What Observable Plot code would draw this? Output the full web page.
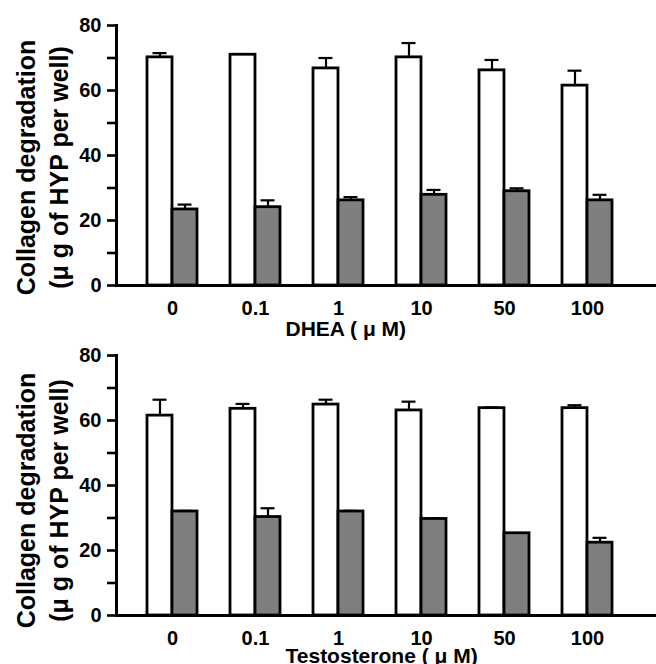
<!DOCTYPE html>
<html>
<head>
<meta charset="utf-8">
<script src="https://cdn.jsdelivr.net/npm/d3@7"></script>
<script src="https://cdn.jsdelivr.net/npm/@observablehq/plot@0.6"></script>
<style>
  html, body { margin: 0; padding: 0; background: white; }
  #chart svg { display: block; }
</style>
</head>
<body>
<div id="chart"></div>
<script>
// ---- data ----
const doses = ["0", "0.1", "1", "10", "50", "100"];
const yTicks = [0, 10, 20, 30, 40, 50, 60, 70, 80];
const yTickLabels = [0, 20, 40, 60, 80];

const dheaControl = [70.2, 71.0, 66.8, 70.2, 66.2, 61.5];
const dheaControlErr = [1.3, 0.2, 3.2, 4.4, 3.2, 4.6];
const dheaTreated = [23.4, 24.1, 26.2, 27.9, 29.0, 26.2];
const dheaTreatedErr = [1.5, 2.1, 1.0, 1.5, 0.9, 1.7];

const testoControl = [61.5, 63.6, 64.9, 63.1, 63.8, 63.8];
const testoControlErr = [4.9, 1.5, 1.5, 2.7, 0.2, 0.9];
const testoTreated = [32.0, 30.3, 32.0, 29.7, 25.3, 22.4];
const testoTreatedErr = [0.2, 2.7, 0.2, 0.2, 0.0, 1.5];

const yLabel = "Collagen degradation\n(\u03bc g of HYP per well)";
const dheaLabel = "DHEA ( \u03bc M)";
const testoLabel = "Testosterone ( \u03bc M)";

// ---- layout ----
const W = 656, ML = 116, MR = 0;
const xOpts = {paddingInner: 0.4, paddingOuter: 0.4375, align: 0.41};
const bw = d3.scaleBand().domain(doses).range([ML, W - MR])
  .paddingInner(xOpts.paddingInner).paddingOuter(xOpts.paddingOuter).align(xOpts.align).bandwidth();
const half = bw / 2, capHalf = 7;
const FONT = "'Liberation Sans', Arial, Helvetica, sans-serif";

function panel(ctrl, ctrlErr, trt, trtErr, xLabel, opts) {
  const rows = doses.map((d, i) => ({dose: d, ctrl: ctrl[i], ctrlErr: ctrlErr[i], trt: trt[i], trtErr: trtErr[i]}));
  return Plot.plot({
    width: W,
    height: opts.height,
    marginLeft: ML,
    marginRight: MR,
    marginTop: opts.mt,
    marginBottom: opts.mb,
    style: {fontFamily: FONT, fontSize: "20px", fontWeight: "bold", color: "black", background: "white", overflow: "visible"},
    x: {type: "band", domain: doses, ...xOpts, axis: null},
    y: {domain: [0, 80], axis: null},
    marks: [
      Plot.axisY({ticks: yTicks, tickFormat: d => yTickLabels.includes(d) ? String(d) : "", tickSize: 9, tickPadding: 6, strokeWidth: 2.6, fontSize: 20, label: null}),
      Plot.axisX({tickSize: 0, tickPadding: 15, fontSize: 20, label: null}),
      // error bars (upper only)
      Plot.ruleX(rows, {x: "dose", y1: "ctrl", y2: d => d.ctrl + d.ctrlErr, dx: -half / 2, stroke: "black", strokeWidth: 2.2}),
      Plot.tickY(rows, {x: "dose", y: d => d.ctrl + d.ctrlErr, insetLeft: half / 2 - capHalf, insetRight: bw - half / 2 - capHalf, stroke: "black", strokeWidth: 2.2}),
      Plot.ruleX(rows, {x: "dose", y1: "trt", y2: d => d.trt + d.trtErr, dx: half / 2, stroke: "black", strokeWidth: 2.2}),
      Plot.tickY(rows, {x: "dose", y: d => d.trt + d.trtErr, insetLeft: bw - half / 2 - capHalf, insetRight: half / 2 - capHalf, stroke: "black", strokeWidth: 2.2}),
      // bars
      Plot.barY(rows, {x: "dose", y: "ctrl", insetRight: half, fill: "white", stroke: "black", strokeWidth: 2.8}),
      Plot.barY(rows, {x: "dose", y: "trt", insetLeft: half, fill: "#7f7f7f", stroke: "black", strokeWidth: 2.8}),
      // axis lines
      Plot.ruleY([0], {stroke: "black", strokeWidth: 3}),
      Plot.frame({anchor: "left", stroke: "black", strokeWidth: 3}),
      // titles
      Plot.text([yLabel], {text: d => d, frameAnchor: "left", textAnchor: "middle", lineAnchor: "middle", rotate: -90, dx: -76, dy: opts.ydy, fontSize: 25, lineHeight: 1.32, fontWeight: "bold", fill: "black"}),
      Plot.text([xLabel], {text: d => d, frameAnchor: "bottom-left", textAnchor: "start", lineAnchor: "bottom", dx: 169, dy: opts.xdy, fontSize: 21, fontWeight: "bold", fill: "black"})
    ]
  });
}

const chart = document.getElementById("chart");
chart.appendChild(panel(dheaControl, dheaControlErr, dheaTreated, dheaTreatedErr, dheaLabel, {height: 338, mt: 25, mb: 53, ydy: 12, xdy: 50}));
chart.appendChild(panel(testoControl, testoControlErr, testoTreated, testoTreatedErr, testoLabel, {height: 326, mt: 17, mb: 49, ydy: 15, xdy: 47}));
</script>
</body>
</html>
